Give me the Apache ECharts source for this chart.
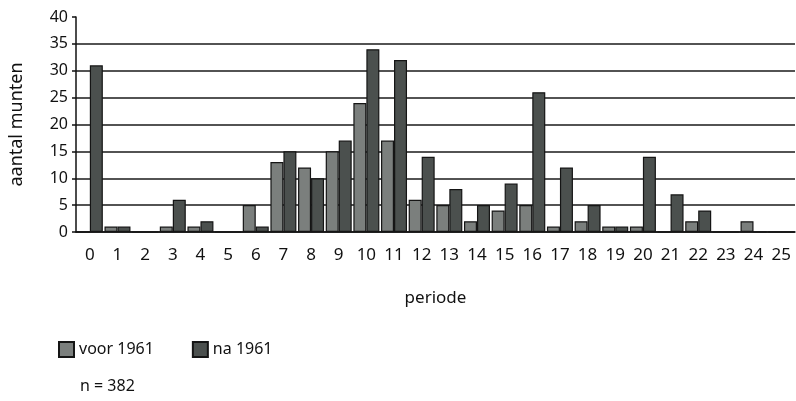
<!DOCTYPE html>
<html>
<head>
<meta charset="utf-8">
<script src="https://cdn.jsdelivr.net/npm/echarts@6/dist/echarts.min.js"></script>
<style>
  html, body { margin: 0; padding: 0; background: #fff; }
  #chart { width: 796px; height: 401px; }
</style>
</head>
<body>
<div id="chart"></div>
<script>
// perioden 0 t/m 25
const periodes = ['0', '1', '2', '3', '4', '5', '6', '7', '8', '9', '10', '11', '12',
  '13', '14', '15', '16', '17', '18', '19', '20', '21', '22', '23', '24', '25']
const voor1961 = [0, 1, 0, 1, 1, 0, 5, 13, 12, 15, 24, 17, 6, 5, 2, 4, 5, 1, 2, 1, 1, 0, 2, 0, 2, 0]
const na1961 = [31, 1, 0, 6, 2, 0, 1, 15, 10, 17, 34, 32, 14, 8, 5, 9, 26, 12, 5, 1, 14, 7, 4, 0, 0, 0]
const yTicks = { min: 0, max: 40, interval: 5 }

const font = 'Noto Sans'
const chart = echarts.init(document.getElementById('chart'))

chart.setOption({
  animation: false,
  textStyle: { fontFamily: font, color: '#111' },
  grid: {
    left: 75,
    right: 1,
    top: 17,
    bottom: 169
  },
  legend: {
    left: 53,
    top: 336,
    itemWidth: 15,
    itemHeight: 15,
    itemGap: 38,
    icon: 'rect',
    textStyle: { fontFamily: font, fontSize: 16, color: '#111' },
    data: ['voor 1961', 'na 1961']
  },
  xAxis: {
    type: 'category',
    data: periodes,
    name: 'periode',
    nameLocation: 'middle',
    nameGap: 58,
    nameTextStyle: { fontSize: 17, color: '#111' },
    axisLine: { lineStyle: { color: '#111', width: 1.5 } },
    axisTick: { length: 8, lineStyle: { color: '#111', width: 1.5 } },
    axisLabel: { fontSize: 17, color: '#111', margin: 15 }
  },
  yAxis: {
    type: 'value',
    min: yTicks.min,
    max: yTicks.max,
    interval: yTicks.interval,
    name: 'aantal munten',
    nameLocation: 'middle',
    nameRotate: 90,
    nameGap: 50,
    nameTextStyle: { fontSize: 18, color: '#111' },
    axisLine: { show: true, lineStyle: { color: '#111', width: 1.5 } },
    axisTick: { show: true, length: 4, lineStyle: { color: '#111', width: 1.5 } },
    axisLabel: { fontSize: 16, color: '#111', margin: 8 },
    splitLine: { showMaxLine: false, lineStyle: { color: '#1a1a1a', width: 1.5 } }
  },
  series: [
    {
      name: 'voor 1961',
      type: 'bar',
      data: voor1961,
      barGap: '0%',
      barCategoryGap: '6%',
      itemStyle: { color: '#7b7f7d', borderColor: '#151515', borderWidth: 1.2 }
    },
    {
      name: 'na 1961',
      type: 'bar',
      data: na1961,
      itemStyle: { color: '#4b504e', borderColor: '#151515', borderWidth: 1.2 }
    }
  ],
  graphic: [
    {
      type: 'text',
      left: 80,
      top: 378,
      style: { text: 'n = 382', font: '16px "Noto Sans"', fill: '#111' }
    }
  ]
})
</script>
</body>
</html>
